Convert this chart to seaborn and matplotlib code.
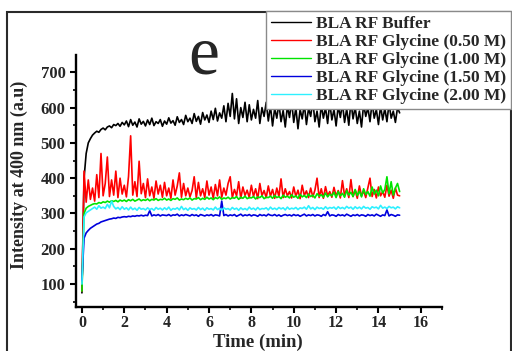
import matplotlib
matplotlib.use("Agg")
import matplotlib.pyplot as plt
from matplotlib.patches import Rectangle
from matplotlib.ticker import MultipleLocator
import pandas as pd
import seaborn as sns

# Fluorescence time course at 400 nm, sampled every 0.1 min
TIME_MIN = [
    0.0, 0.1, 0.2, 0.3, 0.4, 0.5, 0.6, 0.7, 0.8, 0.9,
    1.0, 1.1, 1.2, 1.3, 1.4, 1.5, 1.6, 1.7, 1.8, 1.9,
    2.0, 2.1, 2.2, 2.3, 2.4, 2.5, 2.6, 2.7, 2.8, 2.9,
    3.0, 3.1, 3.2, 3.3, 3.4, 3.5, 3.6, 3.7, 3.8, 3.9,
    4.0, 4.1, 4.2, 4.3, 4.4, 4.5, 4.6, 4.7, 4.8, 4.9,
    5.0, 5.1, 5.2, 5.3, 5.4, 5.5, 5.6, 5.7, 5.8, 5.9,
    6.0, 6.1, 6.2, 6.3, 6.4, 6.5, 6.6, 6.7, 6.8, 6.9,
    7.0, 7.1, 7.2, 7.3, 7.4, 7.5, 7.6, 7.7, 7.8, 7.9,
    8.0, 8.1, 8.2, 8.3, 8.4, 8.5, 8.6, 8.7, 8.8, 8.9,
    9.0, 9.1, 9.2, 9.3, 9.4, 9.5, 9.6, 9.7, 9.8, 9.9,
    10.0, 10.1, 10.2, 10.3, 10.4, 10.5, 10.6, 10.7, 10.8, 10.9,
    11.0, 11.1, 11.2, 11.3, 11.4, 11.5, 11.6, 11.7, 11.8, 11.9,
    12.0, 12.1, 12.2, 12.3, 12.4, 12.5, 12.6, 12.7, 12.8, 12.9,
    13.0, 13.1, 13.2, 13.3, 13.4, 13.5, 13.6, 13.7, 13.8, 13.9,
    14.0, 14.1, 14.2, 14.3, 14.4, 14.5, 14.6, 14.7, 14.8, 14.9,
    15.0,
]

BUFFER = [
    75, 400, 470, 500, 512, 522, 528, 533, 530, 538,
    542, 537, 545, 548, 543, 552, 549, 555, 547, 558,
    551, 562, 546, 566, 550, 559, 545, 568, 553, 561,
    548, 565, 552, 570, 549, 560, 555, 566, 547, 562,
    553, 571, 556, 563, 550, 574, 558, 566, 552, 578,
    560, 570, 555, 583, 561, 575, 553, 586, 565, 579,
    558, 590, 566, 598, 562, 585, 570, 605, 560, 612,
    575, 640, 568, 625, 555, 600, 572, 615, 560, 608,
    565, 595, 570, 620, 555, 600, 575, 615, 562, 605,
    548, 598, 570, 612, 560, 592, 545, 605, 572, 618,
    558, 600, 540, 595, 568, 610, 552, 598, 575, 620,
    560, 590, 545, 608, 570, 600, 555, 615, 565, 595,
    548, 605, 572, 612, 558, 597, 550, 618, 568, 602,
    555, 590, 545, 610, 575, 600, 560, 615, 570, 595,
    552, 605, 565, 598, 560, 612, 570, 590, 558, 600,
    585,
]

GLYCINE_050 = [
    80, 420, 332, 395, 340, 372, 335, 410, 345, 470,
    350, 385, 460, 348, 395, 352, 420, 345, 400, 355,
    380, 347, 405, 520, 352, 390, 348, 448, 356, 385,
    345, 398, 350, 375, 343, 392, 355, 380, 346, 388,
    350, 372, 343, 395, 352, 378, 415, 346, 385, 350,
    372, 347, 365, 404, 344, 388, 350, 370, 345, 392,
    352, 375, 343, 382, 350, 395, 346, 372, 352, 385,
    404, 345, 368, 350, 390, 343, 375, 351, 366, 345,
    380, 348, 370, 342, 385, 350, 365, 345, 378, 349,
    368, 343, 372, 348, 398, 345, 370, 350, 362, 344,
    375, 348, 366, 342, 380, 351, 364, 345, 372, 347,
    366, 400, 345, 370, 343, 376, 350, 362, 346, 374,
    349, 365, 344, 393, 350, 370, 345, 396, 348, 366,
    343, 378, 350, 364, 345, 372, 400, 348, 368, 344,
    375, 350, 362, 346, 380, 349, 366, 343, 372, 352,
    350,
]

GLYCINE_100 = [
    80, 300, 315, 320, 323, 326, 328, 327, 331, 329,
    333, 331, 335, 332, 336, 334, 337, 333, 338, 335,
    338, 334, 339, 336, 340, 335, 338, 341, 336, 339,
    337, 341, 336, 340, 338, 342, 337, 340, 339, 343,
    338, 341, 337, 342, 340, 344, 338, 341, 339, 343,
    340, 344, 338, 342, 341, 345, 339, 343, 340, 346,
    341, 344, 339, 345, 342, 347, 340, 344, 342, 346,
    341, 345, 343, 348, 340, 346, 343, 349, 342, 345,
    344, 348, 341, 347, 345, 350, 342, 346, 345, 349,
    343, 351, 345, 348, 342, 352, 346, 349, 344, 353,
    346, 350, 343, 354, 347, 351, 345, 355, 348, 352,
    344, 356, 349, 353, 346, 358, 347, 355, 350, 360,
    345, 362, 350, 357, 346, 365, 352, 360, 348, 368,
    351, 363, 347, 370, 354, 362, 349, 375, 355, 366,
    350, 378, 358, 368, 404, 356, 390, 352, 372, 385,
    362,
]

GLYCINE_150 = [
    110, 230, 245, 252, 258, 262, 266, 270, 272, 276,
    278, 280, 282, 284, 285, 287, 286, 289, 288, 290,
    291, 290, 292, 291, 293, 292, 294, 293, 295, 293,
    295, 294, 308, 293, 296, 294, 297, 293, 296, 295,
    294, 297, 293, 296, 295, 298, 293, 296, 294, 297,
    295, 293, 297, 294, 296, 292, 297, 295, 293, 296,
    294, 297, 293, 296, 295, 293, 335, 294, 297, 293,
    296, 294, 297, 292, 295, 298, 293, 296, 294, 297,
    293, 296, 295, 292, 297, 294, 296, 293, 298, 295,
    294, 297, 293, 296, 292, 295, 297, 294, 296, 293,
    297, 294, 296, 292, 295, 298, 293, 296, 294, 297,
    293, 296, 295, 292, 297, 294, 305, 293, 296, 295,
    292, 297, 294, 296, 293, 298, 295, 292, 296, 294,
    297, 293, 296, 295, 292, 297, 294, 296, 293, 298,
    295, 292, 296, 294, 310, 293, 297, 295, 292, 296,
    295,
]

GLYCINE_200 = [
    100, 290, 302, 306, 310, 314, 318, 312, 322, 315,
    318, 314, 326, 316, 335, 320, 313, 317, 311, 319,
    312, 316, 310, 318, 311, 315, 309, 317, 312, 314,
    310, 316, 311, 314, 309, 317, 312, 315, 310, 316,
    311, 318, 309, 314, 312, 316, 310, 320, 311, 315,
    309, 316, 312, 314, 310, 317, 311, 315, 309, 316,
    312, 314, 310, 318, 311, 315, 309, 316, 312, 314,
    310, 317, 312, 315, 309, 316, 311, 314, 310, 318,
    312, 315, 310, 317, 311, 314, 313, 316, 310, 318,
    312, 315, 311, 317, 313, 316, 310, 318, 312, 315,
    313, 317, 311, 316, 314, 318, 312, 322, 313, 317,
    311, 318, 314, 316, 312, 319, 313, 317, 315, 318,
    312, 319, 314, 317, 313, 320, 315, 318, 312, 319,
    314, 318, 313, 320, 315, 317, 312, 319, 316, 318,
    313, 323, 315, 318, 314, 320, 316, 318, 313, 319,
    316,
]

SERIES_LABELS = [
    "BLA RF Buffer",
    "BLA RF Glycine (0.50 M)",
    "BLA RF Glycine (1.00 M)",
    "BLA RF Glycine (1.50 M)",
    "BLA RF Glycine (2.00 M)",
]
SERIES_VALUES = [BUFFER, GLYCINE_050, GLYCINE_100, GLYCINE_150, GLYCINE_200]
SERIES_COLORS = ["#000000", "#ff0000", "#00e400", "#0000dd", "#2ef0ff"]

X_TICKS = [0, 2, 4, 6, 8, 10, 12, 14, 16]
Y_TICKS = [100, 200, 300, 400, 500, 600, 700]

sns.set_theme(style="ticks")
plt.rcParams["font.family"] = ["Liberation Serif", "DejaVu Serif"]
plt.rcParams["font.weight"] = "bold"
plt.rcParams["axes.labelweight"] = "bold"

long_df = pd.concat(
    [
        pd.DataFrame({"Time": TIME_MIN, "Intensity": vals, "Sample": lab})
        for lab, vals in zip(SERIES_LABELS, SERIES_VALUES)
    ],
    ignore_index=True,
)

W, H = 512, 351
fig = plt.figure(figsize=(W / 100, H / 100), dpi=100)
ax = fig.add_axes([76 / W, 1 - 307 / H, (442 - 76) / W, (307 - 55) / H])

sns.lineplot(
    data=long_df, x="Time", y="Intensity", hue="Sample",
    hue_order=SERIES_LABELS, palette=dict(zip(SERIES_LABELS, SERIES_COLORS)),
    estimator=None, sort=False, linewidth=1.2, ax=ax,
)

ax.set_xlim(-0.28, 17.0)
ax.set_ylim(35, 749)
ax.set_xticks(X_TICKS)
ax.set_yticks(Y_TICKS)
ax.xaxis.set_minor_locator(MultipleLocator(1))
ax.yaxis.set_minor_locator(MultipleLocator(50))
ax.tick_params(which="major", direction="out", length=4.5, width=1.5,
               labelsize=12, color="black", pad=3)
ax.tick_params(which="minor", direction="out", length=2.5, width=1.2, color="black")
ax.tick_params(axis="x", which="major", labelsize=11.5, pad=1.5)

for side in ("top", "right"):
    ax.spines[side].set_visible(False)
for side in ("left", "bottom"):
    ax.spines[side].set_linewidth(1.7)
    ax.spines[side].set_color("black")

ax.set_xlabel("Time (min)", fontsize=13.5, fontweight="bold")
ax.set_ylabel("Intensity at 400 nm (a.u)", fontsize=13, fontweight="bold")
ax.xaxis.set_label_coords((258 - 76) / 366, (307 - 334) / 252)
ax.yaxis.set_label_coords((28 - 76) / 366, (307 - 175) / 252)

handles, labels = ax.get_legend_handles_labels()
ax.get_legend().remove()
leg = fig.legend(
    handles, labels, loc="upper right",
    bbox_to_anchor=(511 / W, 1 - 11 / H), bbox_transform=fig.transFigure,
    frameon=True, fancybox=False, framealpha=1, edgecolor="#8a8a8a",
    prop={"family": "Liberation Serif", "weight": "bold", "size": 12.5},
    handlelength=2.3, handletextpad=0.25, labelspacing=0.1,
    borderpad=0.3, borderaxespad=0,
)
leg.get_frame().set_linewidth(1.0)
for line in leg.get_lines():
    line.set_linewidth(1.0)

fig.text(203.5 / W, 1 - 73 / H, "e", fontsize=50, fontweight="normal",
         family="Liberation Serif", ha="center", va="baseline")

fig.add_artist(Rectangle(
    (7 / W, -0.05), (510.5 - 7) / W, (1 - 11.5 / H) + 0.05,
    transform=fig.transFigure, fill=False, edgecolor="#2a2a2a",
    linewidth=1.5, clip_on=False,
))

fig.savefig("out.png", dpi=100)
